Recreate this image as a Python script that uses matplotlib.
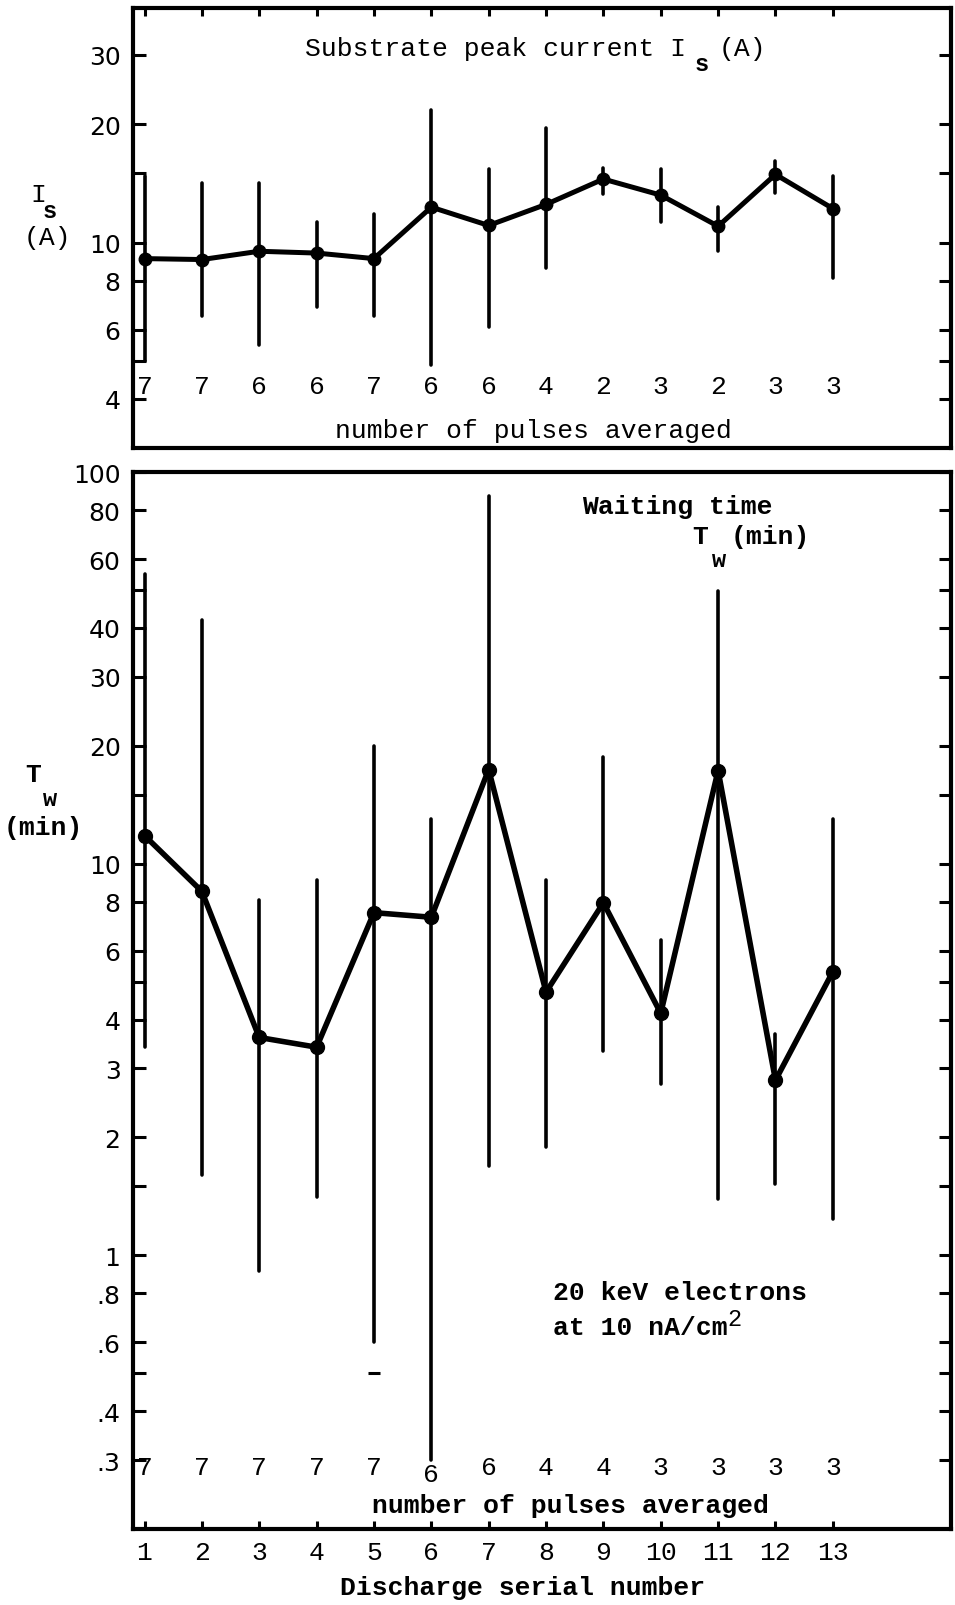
import matplotlib
matplotlib.use("Agg")
import matplotlib.pyplot as plt
import matplotlib.transforms as mtransforms

# discharge data: peak substrate current and waiting time, mean with range
serial = list(range(1, 14))

is_mean = [9.1, 9.05, 9.5, 9.4, 9.1, 12.3, 11.05, 12.5, 14.5, 13.2, 11.0, 14.9, 12.2]
is_hi = [14.8, 14.2, 14.2, 11.3, 11.8, 21.7, 15.4, 19.5, 15.5, 15.4, 12.3, 16.1, 14.8]
is_lo = [5.0, 6.5, 5.5, 6.85, 6.5, 4.87, 6.1, 8.6, 13.3, 11.3, 9.5, 13.4, 8.1]
is_counts = [7, 7, 6, 6, 7, 6, 6, 4, 2, 3, 2, 3, 3]

tw_mean = [11.8, 8.5, 3.6, 3.4, 7.5, 7.3, 17.4, 4.7, 7.95, 4.15, 17.3, 2.8, 5.3]
tw_hi = [55, 42, 8.1, 9.1, 20, 13, 87, 9.1, 18.7, 6.4, 49.6, 3.67, 13]
tw_lo = [3.4, 1.6, 0.91, 1.41, 0.6, 0.3, 1.69, 1.89, 3.33, 2.74, 1.39, 1.52, 1.24]
tw_counts = [7, 7, 7, 7, 7, 6, 6, 4, 4, 3, 3, 3, 3]
tw_extra = [(5, 0.5)]   # isolated short mark below discharge 5

is_ticks = [4, 5, 6, 8, 10, 15, 20, 30]
is_ticklabels = ['4', '', '6', '8', '10', '', '20', '30']
tw_ticks = [0.3, 0.4, 0.5, 0.6, 0.8, 1, 1.5, 2, 3, 4, 5, 6, 8, 10, 15, 20, 30, 40, 50, 60, 80, 100]
tw_ticklabels = ['.3', '.4', '', '.6', '.8', '1', '', '2', '3', '4', '', '6', '8', '10',
                 '', '20', '30', '40', '', '60', '80', '100']

mono = 'Liberation Mono'
sans = 'DejaVu Sans'
fs = 19

fig = plt.figure(figsize=(9.55, 16.06), dpi=100)
ax1 = fig.add_axes([0.1393, 0.7204, 0.8565, 0.2740])
ax2 = fig.add_axes([0.1393, 0.0473, 0.8565, 0.6581])


def style_axis(ax, ticks, labels, ylim, top_ticks, bottom_ticks):
    ax.set_yscale('log')
    ax.set_ylim(*ylim)
    ax.set_xlim(0.8, 15.06)
    ax.set_yticks(ticks)
    ax.set_yticklabels(labels, fontfamily=sans, fontsize=18)
    ax.yaxis.set_minor_locator(matplotlib.ticker.NullLocator())
    ax.set_xticks(serial)
    ax.tick_params(axis='y', which='major', direction='in', left=True, right=True,
                   length=9, width=2.2, pad=9)
    ax.tick_params(axis='x', which='major', direction='in', top=top_ticks,
                   bottom=bottom_ticks, length=6, width=2.2, pad=8)
    for sp in ax.spines.values():
        sp.set_linewidth(3)


def draw_series(ax, mean, lo, hi, lw, elw, ms):
    yerr = [[m - l for m, l in zip(mean, lo)], [h - m for m, h in zip(mean, hi)]]
    cont = ax.errorbar(serial, mean, yerr=yerr, fmt='-o', color='black', lw=lw,
                       elinewidth=elw, capsize=0, ms=ms, zorder=3)
    for bar in cont[2]:
        bar.set_capstyle('round')


# upper panel: substrate peak current
style_axis(ax1, is_ticks, is_ticklabels, (3.0, 39.5), True, False)
ax1.set_xticklabels([])
draw_series(ax1, is_mean, is_lo, is_hi, 3.6, 2.6, 9)

trans1 = mtransforms.blended_transform_factory(ax1.transData, ax1.transAxes)
for x, n in zip(serial, is_counts):
    ax1.text(x, 0.141, str(n), transform=trans1, ha='center', va='center',
             fontfamily=mono, fontsize=fs)
ax1.text(0.489, 0.041, 'number of pulses averaged', transform=ax1.transAxes,
         ha='center', va='center', fontfamily=mono, fontsize=fs)
ax1.text(0.2103, 0.909, 'Substrate peak current I', transform=ax1.transAxes,
         ha='left', va='center', fontfamily=mono, fontsize=fs)
ax1.text(0.695, 0.873, 's', transform=ax1.transAxes, ha='center', va='center',
         fontfamily=mono, fontsize=fs - 2, fontweight='bold')
ax1.text(0.716, 0.909, '(A)', transform=ax1.transAxes, ha='left', va='center',
         fontfamily=mono, fontsize=fs)

# lower panel: waiting time
style_axis(ax2, tw_ticks, tw_ticklabels, (0.2, 100), False, True)
ax2.set_xticklabels([str(s) for s in serial], fontfamily=mono, fontsize=fs)
draw_series(ax2, tw_mean, tw_lo, tw_hi, 4.0, 2.6, 10)
for x, y in tw_extra:
    ax2.plot([x], [y], marker='_', ms=9, mew=2.2, color='black')

trans2 = mtransforms.blended_transform_factory(ax2.transData, ax2.transAxes)
for x, n in zip(serial, tw_counts):
    ax2.text(x, 0.0587 if n != 6 or x != 6 else 0.052, str(n), transform=trans2,
             ha='center', va='center', fontfamily=mono, fontsize=fs)
ax2.text(0.535, 0.0227, 'number of pulses averaged', transform=ax2.transAxes,
         ha='center', va='center', fontfamily=mono, fontsize=fs, fontweight='bold')
ax2.text(0.549, 0.968, 'Waiting time', transform=ax2.transAxes, ha='left',
         va='center', fontfamily=mono, fontsize=fs, fontweight='bold')
ax2.text(0.684, 0.9395, 'T', transform=ax2.transAxes, ha='left', va='center',
         fontfamily=mono, fontsize=fs, fontweight='bold')
ax2.text(0.716, 0.917, 'w', transform=ax2.transAxes, ha='center', va='center',
         fontfamily=mono, fontsize=fs - 2, fontweight='bold')
ax2.text(0.731, 0.9395, '(min)', transform=ax2.transAxes, ha='left', va='center',
         fontfamily=mono, fontsize=fs, fontweight='bold')
ax2.text(0.513, 0.224, '20 keV electrons', transform=ax2.transAxes, ha='left',
         va='center', fontfamily=mono, fontsize=fs, fontweight='bold')
ax2.text(0.513, 0.191, 'at 10 nA/cm', transform=ax2.transAxes, ha='left',
         va='center', fontfamily=mono, fontsize=fs, fontweight='bold')
ax2.text(0.727, 0.199, '2', transform=ax2.transAxes, ha='left', va='center',
         fontfamily=mono, fontsize=fs - 2)

# axis titles placed in figure coordinates
fig.text(0.0398, 0.8786, 'I', ha='center', va='center', fontfamily=mono, fontsize=fs)
fig.text(0.0524, 0.868, 's', ha='center', va='center', fontfamily=mono, fontsize=fs - 2,
         fontweight='bold')
fig.text(0.0492, 0.8518, '(A)', ha='center', va='center', fontfamily=mono, fontsize=fs)
fig.text(0.0346, 0.5174, 'T', ha='center', va='center', fontfamily=mono, fontsize=fs,
         fontweight='bold')
fig.text(0.0524, 0.5019, 'w', ha='center', va='center', fontfamily=mono, fontsize=fs - 2,
         fontweight='bold')
fig.text(0.045, 0.4844, '(min)', ha='center', va='center', fontfamily=mono, fontsize=fs,
         fontweight='bold')
fig.text(0.5476, 0.0112, 'Discharge serial number', ha='center', va='center',
         fontfamily=mono, fontsize=fs, fontweight='bold')

fig.savefig('out.png', dpi=100)
